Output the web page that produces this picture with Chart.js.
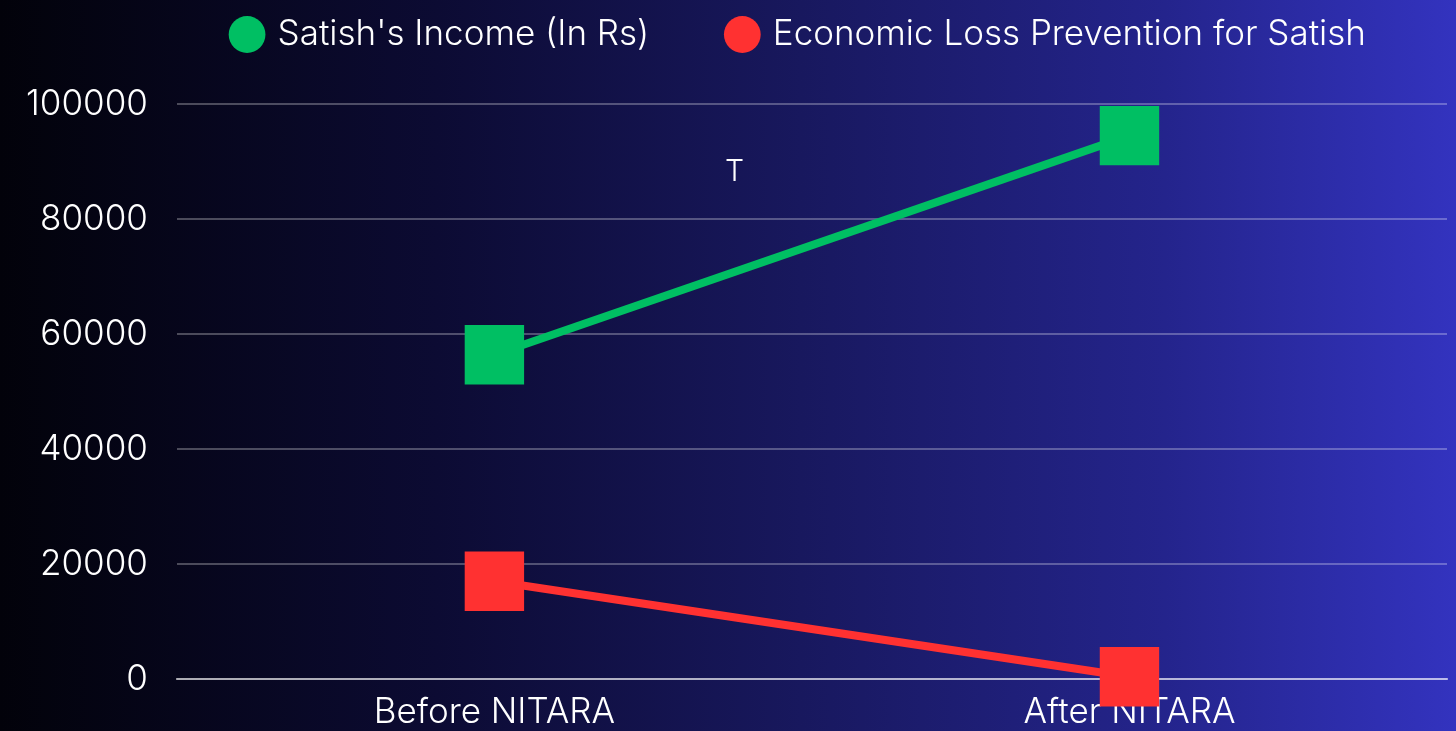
<!DOCTYPE html>
<html>
<head>
<meta charset="utf-8">
<script src="https://cdn.jsdelivr.net/npm/chart.js@4.4.0/dist/chart.umd.min.js"></script>
<style>
  html, body { margin: 0; padding: 0; overflow: hidden; }
  body {
    width: 1456px; height: 731px; position: relative;
    background: linear-gradient(to right, #02020a 0%, #0c0b33 30%, #18185e 55%, #24248c 80%, #3333bf 100%);
    font-family: Inter, sans-serif;
  }
  #wrap { position: absolute; left: 0; top: 0; width: 1456px; height: 745px; }
  #mark { position: absolute; left: 725px; top: 152px; color: #fff; font-size: 30px; font-weight: 300; }
</style>
</head>
<body>
<div id="wrap"><canvas id="myChart"></canvas></div>
<div id="mark">T</div>
<script>
const categories = ["Before NITARA", "After NITARA"];
const incomeValues = [56400, 94500];
const lossValues = [17000, 400];
const yTicks = [0, 20000, 40000, 60000, 80000, 100000];

// legend keeps wide item spacing but a fixed height, and sits a bit right of centre
const legendTweak = {
    id: "legendTweak",
    beforeLayout(chart) {
        const lg = chart.legend;
        if (lg && !lg._patched) {
            const fit = lg.fit.bind(lg);
            lg.fit = function () {
                fit();
                this.height = 167;
            };
            lg._patched = true;
        }
    },
    afterLayout(chart) {
        if (chart.legend) {
            chart.legend.left += 78;
            chart.legend.right += 78;
        }
    },
};

document.addEventListener("DOMContentLoaded", () => {
    const ctx = document.getElementById("myChart").getContext("2d");
    Chart.defaults.font.family = "Inter, sans-serif";
    Chart.defaults.font.weight = 300;
    Chart.defaults.color = "#ffffff";
    new Chart(ctx, {
        type: "line",
        data: {
            labels: categories,
            datasets: [
                {
                    label: "Satish's Income (In Rs)",
                    data: incomeValues,
                    borderColor: "#00bf63",
                    backgroundColor: "#00bf63",
                    borderWidth: 8,
                    pointStyle: "rect",
                    pointRadius: 42,
                    pointBorderWidth: 0,
                    clip: false,
                    fill: false,
                },
                {
                    label: "Economic Loss Prevention for Satish",
                    data: lossValues,
                    borderColor: "#ff3131",
                    backgroundColor: "#ff3131",
                    borderWidth: 8,
                    pointStyle: "rect",
                    pointRadius: 42,
                    pointBorderWidth: 0,
                    clip: false,
                    fill: false,
                },
            ],
        },
        plugins: [legendTweak],
        options: {
            responsive: true,
            maintainAspectRatio: false,
            animation: false,
            layout: { autoPadding: false, padding: { top: -63, right: 9, left: -3 } },
            plugins: {
                legend: {
                    display: true,
                    position: "top",
                    labels: {
                        usePointStyle: true,
                        pointStyle: "circle",
                        boxWidth: 26,
                        boxHeight: 26,
                        padding: 80,
                        color: "#ffffff",
                        font: { size: 35, weight: 300 },
                    },
                },
                tooltip: { enabled: false },
            },
            scales: {
                x: {
                    offset: true,
                    afterFit: (s) => {
                        s.paddingLeft = 0;
                        s.paddingRight = 0;
                    },
                    grid: { display: false, drawTicks: false },
                    border: { display: true, color: "rgba(255,255,255,0.55)", width: 2 },
                    ticks: { color: "#ffffff", font: { size: 35, weight: 300 }, padding: 12 },
                },
                y: {
                    min: 0,
                    max: 100000,
                    afterBuildTicks: (axis) => {
                        axis.ticks = yTicks.map((v) => ({ value: v }));
                    },
                    grid: { color: "rgba(255,255,255,0.28)", lineWidth: 2, drawTicks: false },
                    border: { display: false },
                    ticks: {
                        color: "#ffffff",
                        font: { size: 35, weight: 300 },
                        padding: 29,
                        callback: (v) => String(v),
                    },
                },
            },
        },
    });
});
</script>
</body>
</html>
